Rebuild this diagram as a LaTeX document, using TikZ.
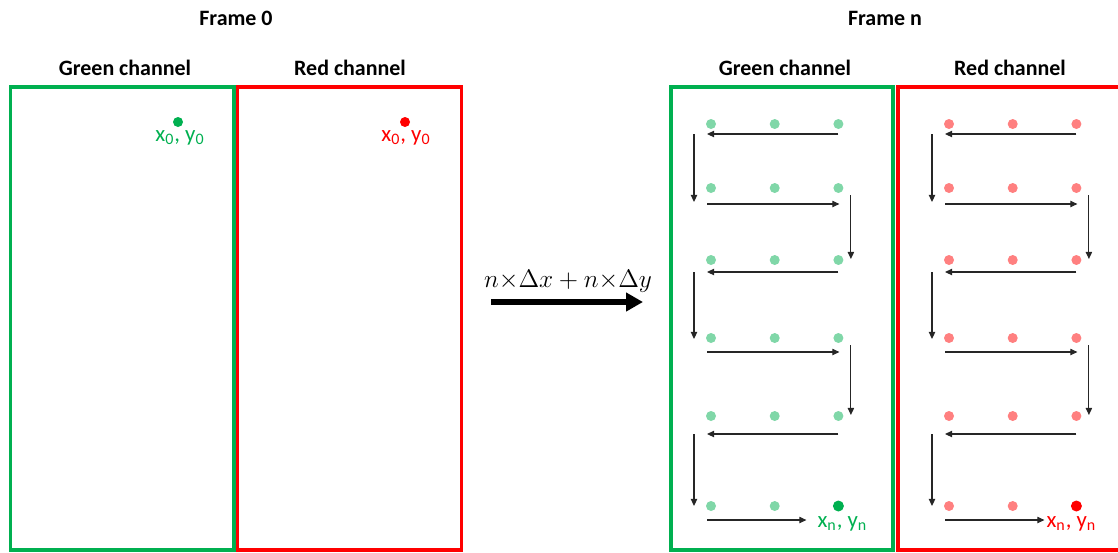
\documentclass[tikz,border=0pt]{standalone}
\usepackage{fontspec}
\setmainfont{Carlito}
\usepackage{tikz}
\usetikzlibrary{arrows.meta,calc}
\definecolor{ChGreen}{HTML}{00B050}
\definecolor{ChRed}{HTML}{FF0000}

\begin{document}
\begin{tikzpicture}[x=0.02cm, y=-0.02cm, >={Triangle[length=4pt,width=3.6pt]},
  chtitle/.style={font=\fontsize{12.5}{15}\selectfont\bfseries},
  chbox/.style={line width=2pt},
  dot/.style={circle, inner sep=0pt, minimum size=0.2cm},
  enddot/.style={circle, inner sep=0pt, minimum size=0.22cm},
  ptlabel/.style={font=\fontsize{13}{15}\selectfont, inner sep=0pt},
  scan/.style={->, line width=0.6pt, black!85},
  shiftarrow/.style={-{Triangle[length=0.34cm,width=0.36cm]}, line width=3.4pt}]
\useasboundingbox (0,0) rectangle (1118,552);

% Frame 0
\node[chtitle] (f0) at (236,18) {Frame 0};
\node[chtitle] (g0t) at (125,68) {Green channel};
\node[chtitle] (r0t) at (350,68) {Red channel};
\draw[chbox, ChGreen] (10.5,87) rectangle (234,550);
\draw[chbox, ChRed] (237.5,87) rectangle (461.5,550);
\node[dot, fill=ChGreen] (g0) at (178,122) {};
\node[dot, fill=ChRed] (r0) at (405,122) {};
\node[ptlabel, ChGreen] (g0l) at (180,138) {x\textsubscript{0}, y\textsubscript{0}};
\node[ptlabel, ChRed] (r0l) at (406,138) {x\textsubscript{0}, y\textsubscript{0}};

% shift between frames
\coordinate (sa) at (491,302);
\coordinate (sb) at (643,302);
\draw[shiftarrow] (sa) -- (sb);
\node[font=\fontsize{14}{16}\selectfont] (shiftlbl) at (568,281) {$n{\times}\Delta x+n{\times}\Delta y$};

% Frame n
\node[chtitle] (fn) at (885,18) {Frame n};
\node[chtitle] (gnt) at (785,68) {Green channel};
\node[chtitle] (rnt) at (1010,68) {Red channel};
\draw[chbox, ChGreen] (671,87) rectangle (893,550);
\draw[chbox, ChRed] (898,87) rectangle (1125,550);

\foreach \ch/\cx/\col in {g/711/ChGreen, r/949/ChRed}
  \foreach \y [count=\i] in {124,188,260,338,416,506}
    \foreach \j in {1,2,3}
      \node[dot, fill=\col!50] (\ch\i\j) at ({\cx+63.7*(\j-1)},\y) {};

\node[enddot, fill=ChGreen] (gend) at (g63) {};
\node[enddot, fill=ChRed] (rend) at (r63) {};
\node[ptlabel, ChGreen] (gendl) at ($(gend)+(4,18)$) {x\textsubscript{n}, y\textsubscript{n}};
\node[ptlabel, ChRed] (rendl) at ($(rend)+(-5,18)$) {x\textsubscript{n}, y\textsubscript{n}};

% raster scan order
\foreach \ch in {g,r} {
  \foreach \i/\j/\a/\b in {1/2/10/14, 3/4/12/1, 5/6/18/0} {
    \draw[scan] ($(\ch\i3)+(0,\a)$) -- ($(\ch\i1)+(-4,\a)$);
    \draw[scan] ($(\ch\i1)+(-17,\a)$) -- ($(\ch\j1)+(-17,\b)$);
  }
  \foreach \i/\j/\c in {2/3/16, 4/5/14} {
    \draw[scan] ($(\ch\i1)+(-4,\c)$) -- ($(\ch\i3)+(1,\c)$);
    \draw[scan] ($(\ch\i3)+(12.5,7)$) -- ($(\ch\j3)+(12.5,-1)$);
  }
  \draw[scan] ($(\ch61)+(-4,14)$) -- ($(\ch63)+(-32,14)$);
}
\end{tikzpicture}
\end{document}
